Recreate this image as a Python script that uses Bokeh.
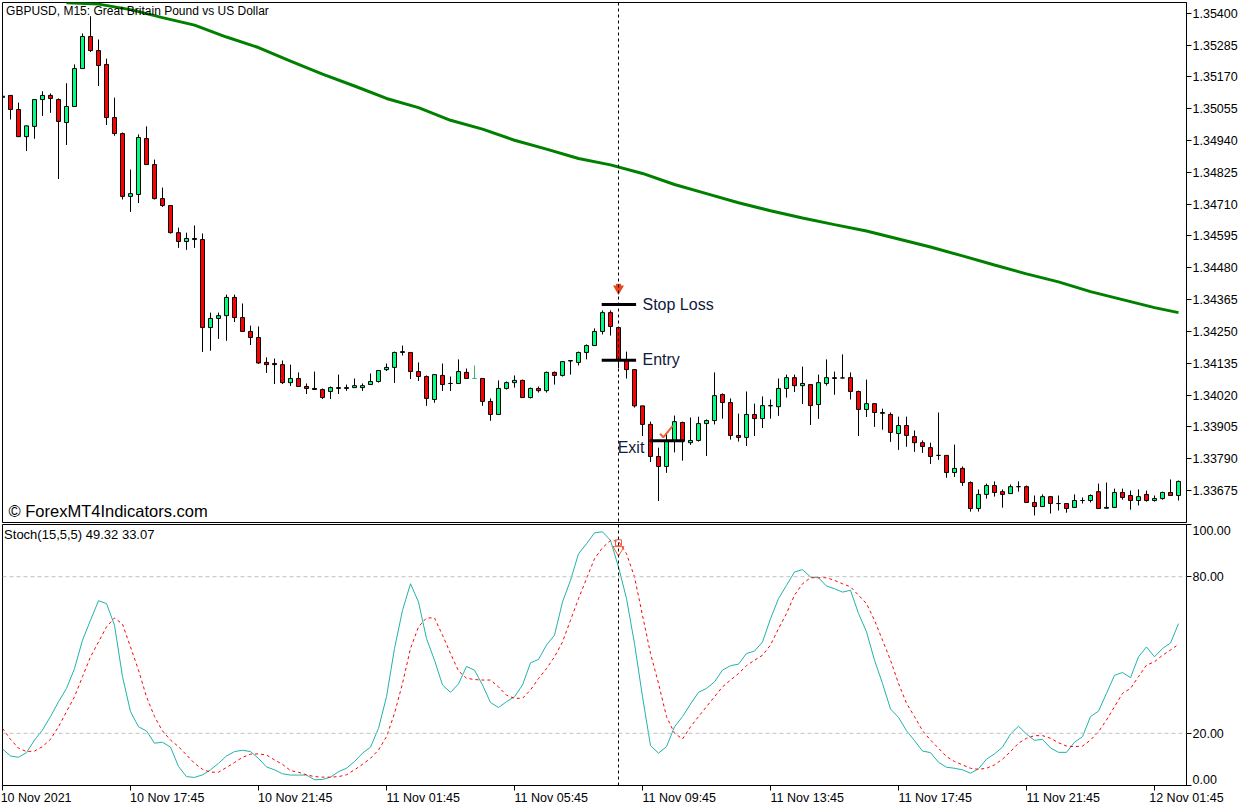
from bokeh.embed import file_html
from bokeh.resources import INLINE
from bokeh.layouts import column
from bokeh.models import ColumnDataSource, FixedTicker, Label, LinearAxis, Range1d, Span
from bokeh.plotting import figure

opens = [
1.35096,1.35103,1.35052,1.34954,1.34991,1.35088,1.35103,1.35088,1.35005,1.35063,
1.35200,1.35316,1.35265,1.35215,1.35023,1.34965,1.34738,1.34745,1.34947,1.34853,
1.34730,1.34705,1.34607,1.34575,1.34582,1.34582,1.34264,1.34297,1.34307,1.34373,
1.34300,1.34250,1.34228,1.34138,1.34134,1.34130,1.34065,1.34080,1.34051,1.34044,
1.34040,1.34033,1.34044,1.34044,1.34047,1.34047,1.34058,1.34069,1.34112,1.34120,
1.34174,1.34174,1.34105,1.34087,1.34004,1.34091,1.34062,1.34062,1.34102,1.34080,
1.34080,1.33997,1.33950,1.34044,1.34065,1.34073,1.34011,1.34044,1.34036,1.34102,
1.34091,1.34143,1.34138,1.34174,1.34199,1.34250,1.34318,1.34264,1.34145,1.34112,
1.33981,1.33914,1.33798,1.33762,1.33853,1.33921,1.33848,1.33856,1.33917,1.33928,
1.34022,1.33993,1.33874,1.33867,1.33950,1.33935,1.33981,1.33978,1.34044,1.34083,
1.34054,1.34058,1.33986,1.34062,1.34080,1.34082,1.34083,1.34033,1.33968,1.33989,
1.33954,1.33950,1.33881,1.33910,1.33870,1.33848,1.33830,1.33802,1.33802,1.33740,
1.33755,1.33704,1.33610,1.33661,1.33693,1.33671,1.33664,1.33689,1.33689,1.33632,
1.33617,1.33653,1.33628,1.33628,1.33614,1.33639,1.33639,1.33671,1.33611,1.33614,
1.33668,1.33657,1.33639,1.33661,1.33639,1.33646,1.33668,1.33657]
highs = [
1.35100,1.35104,1.35077,1.34993,1.35088,1.35118,1.35110,1.35092,1.35147,1.35215,
1.35327,1.35389,1.35305,1.35236,1.35095,1.34969,1.34835,1.34962,1.34991,1.34871,
1.34770,1.34705,1.34625,1.34607,1.34633,1.34604,1.34318,1.34318,1.34383,1.34383,
1.34351,1.34271,1.34268,1.34156,1.34152,1.34145,1.34130,1.34102,1.34062,1.34105,
1.34044,1.34051,1.34094,1.34058,1.34080,1.34062,1.34098,1.34109,1.34134,1.34177,
1.34199,1.34174,1.34138,1.34091,1.34094,1.34134,1.34087,1.34149,1.34116,1.34127,
1.34080,1.34008,1.34073,1.34069,1.34091,1.34076,1.34047,1.34051,1.34105,1.34105,
1.34141,1.34145,1.34177,1.34203,1.34261,1.34326,1.34326,1.34264,1.34177,1.34112,
1.33981,1.33924,1.33830,1.33881,1.33946,1.33924,1.33939,1.33942,1.33932,1.34102,
1.34026,1.34008,1.33953,1.34033,1.33989,1.34015,1.34004,1.34080,1.34094,1.34094,
1.34123,1.34058,1.34094,1.34149,1.34105,1.34167,1.34102,1.34036,1.34076,1.33989,
1.33971,1.33957,1.33942,1.33942,1.33892,1.33856,1.33848,1.33957,1.33802,1.33841,
1.33762,1.33708,1.33679,1.33700,1.33708,1.33679,1.33697,1.33708,1.33693,1.33657,
1.33661,1.33653,1.33657,1.33628,1.33661,1.33650,1.33661,1.33700,1.33704,1.33682,
1.33682,1.33675,1.33679,1.33675,1.33657,1.33671,1.33715,1.33711]
lows = [
1.35096,1.35016,1.34954,1.34902,1.34946,1.35029,1.35040,1.34801,1.34924,1.35063,
1.35200,1.35260,1.35137,1.34996,1.34957,1.34727,1.34682,1.34714,1.34853,1.34727,
1.34700,1.34604,1.34552,1.34545,1.34552,1.34176,1.34180,1.34223,1.34216,1.34284,
1.34250,1.34201,1.34133,1.34100,1.34060,1.34060,1.34053,1.34051,1.34024,1.34040,
1.34006,1.34006,1.34024,1.34035,1.34047,1.34035,1.34058,1.34065,1.34107,1.34064,
1.34163,1.34078,1.34071,1.33981,1.33992,1.34035,1.34035,1.34062,1.34080,1.34080,
1.33981,1.33927,1.33950,1.34040,1.34047,1.34011,1.34008,1.34029,1.34029,1.34058,
1.34087,1.34094,1.34127,1.34149,1.34199,1.34239,1.34235,1.34118,1.34080,1.33975,
1.33872,1.33778,1.33637,1.33739,1.33813,1.33783,1.33840,1.33852,1.33800,1.33914,
1.33935,1.33859,1.33852,1.33836,1.33872,1.33901,1.33935,1.33945,1.34011,1.34031,
1.33988,1.33912,1.33934,1.34054,1.34021,1.34080,1.34004,1.33872,1.33941,1.33905,
1.33895,1.33851,1.33822,1.33833,1.33815,1.33811,1.33771,1.33786,1.33721,1.33724,
1.33692,1.33599,1.33599,1.33646,1.33653,1.33613,1.33664,1.33671,1.33632,1.33585,
1.33617,1.33592,1.33603,1.33595,1.33614,1.33628,1.33632,1.33610,1.33611,1.33614,
1.33642,1.33606,1.33621,1.33635,1.33635,1.33642,1.33657,1.33639]
closes = [
1.35100,1.35052,1.34954,1.34993,1.35088,1.35103,1.35092,1.35009,1.35063,1.35200,
1.35316,1.35265,1.35211,1.35023,1.34965,1.34738,1.34748,1.34951,1.34853,1.34730,
1.34705,1.34607,1.34575,1.34586,1.34586,1.34264,1.34297,1.34307,1.34373,1.34300,
1.34250,1.34228,1.34136,1.34130,1.34130,1.34065,1.34080,1.34051,1.34044,1.34040,
1.34011,1.34047,1.34047,1.34047,1.34054,1.34054,1.34069,1.34109,1.34120,1.34174,
1.34177,1.34105,1.34087,1.34008,1.34094,1.34058,1.34062,1.34105,1.34080,1.34080,
1.33997,1.33950,1.34044,1.34065,1.34073,1.34011,1.34044,1.34036,1.34102,1.34091,
1.34141,1.34145,1.34174,1.34199,1.34250,1.34318,1.34268,1.34145,1.34112,1.33981,
1.33914,1.33798,1.33762,1.33856,1.33924,1.33853,1.33856,1.33917,1.33928,1.34018,
1.33993,1.33874,1.33867,1.33950,1.33935,1.33982,1.33982,1.34044,1.34083,1.34054,
1.34062,1.33982,1.34065,1.34083,1.34083,1.34082,1.34033,1.33968,1.33989,1.33957,
1.33957,1.33885,1.33910,1.33874,1.33848,1.33834,1.33798,1.33802,1.33740,1.33755,
1.33704,1.33610,1.33661,1.33693,1.33668,1.33661,1.33689,1.33689,1.33632,1.33617,
1.33653,1.33628,1.33628,1.33610,1.33639,1.33639,1.33657,1.33610,1.33614,1.33668,
1.33650,1.33639,1.33653,1.33639,1.33646,1.33668,1.33657,1.33708]

ma_bars = [8,12,16,20,24,28,32,36,40,44,48,52,56,60,64,68,72,76,80,84,88,92,96,
           100,104,108,112,116,120,124,128,132,136,140,144,147]
ma_values = [1.35438,1.35433,1.35413,1.35384,1.35357,1.35314,1.35276,1.35227,1.35180,1.35137,
             1.35092,1.35059,1.35013,1.34981,1.34941,1.34909,1.34875,1.34852,1.34821,1.34781,
             1.34748,1.34715,1.34686,1.34660,1.34636,1.34613,1.34584,1.34555,1.34523,1.34490,
             1.34458,1.34429,1.34394,1.34365,1.34336,1.34318]

stoch_main = [
14.0,11.3,10.8,12.6,17.4,21.3,26.4,32.1,37.2,44.8,55.7,63.3,70.8,69.7,61.4,41.7,28.3,22.5,20.9,16.2,
16.6,14.7,7.3,3.4,3.1,4.1,6.0,8.5,11.3,13.0,13.5,13.0,10.4,7.1,6.0,4.5,4.0,4.0,4.0,2.2,
2.3,3.2,5.3,6.6,9.2,12.4,14.7,21.9,34.0,52.5,67.1,77.3,70.3,56.3,48.0,38.5,35.7,38.9,45.6,44.2,
38.5,31.8,29.9,32.1,34.0,38.5,47.0,48.3,53.8,57.6,70.3,78.6,88.8,92.6,96.8,97.2,93.9,83.7,71.6,54.4,
34.0,15.3,12.4,14.9,22.5,26.4,31.2,35.7,37.2,39.7,44.2,45.9,46.5,50.6,51.5,55.0,63.9,71.6,76.7,81.8,
82.7,79.9,79.6,76.4,75.4,74.1,74.8,65.9,58.9,48.0,39.1,29.3,26.1,21.0,17.2,13.2,12.6,8.9,7.0,6.6,
6.0,4.7,6.4,10.1,12.1,14.7,19.7,22.7,19.7,17.3,17.7,14.4,12.7,12.7,16.6,18.7,26.4,28.5,35.3,42.2,
43.3,41.3,49.3,53.1,49.3,52.5,54.6,62.0]
stoch_signal = [
21.9,17.7,14.3,13.0,13.2,14.9,17.7,22.5,28.3,34.0,41.7,49.3,55.0,60.8,64.2,61.8,53.1,44.2,34.0,26.4,
20.9,17.4,14.9,11.7,8.5,6.2,5.1,5.1,6.9,8.8,10.8,12.0,12.1,11.7,9.8,8.1,5.7,5.1,4.1,3.4,
3.2,3.2,3.4,4.1,6.0,8.1,10.4,13.6,18.7,27.6,39.1,52.5,60.8,64.2,64.2,57.6,50.6,43.9,41.1,40.6,
40.4,40.4,37.8,34.6,33.4,33.4,36.6,41.0,44.8,49.3,55.0,63.3,71.6,79.2,86.9,91.1,93.9,93.6,88.8,79.9,
65.2,50.6,39.1,26.4,20.0,17.8,22.5,26.4,30.2,34.0,37.8,40.4,42.9,45.9,48.0,49.9,53.8,60.1,65.9,72.9,
77.3,79.6,79.6,79.6,78.6,77.3,76.1,72.9,69.7,63.3,55.7,48.0,39.1,31.5,26.4,21.0,17.4,14.3,11.1,9.2,
7.9,6.6,6.2,6.6,7.9,10.1,13.0,16.2,18.1,19.1,19.1,18.1,16.4,15.1,14.9,15.1,17.4,20.6,25.1,30.2,
35.3,37.2,41.7,46.1,47.4,49.9,51.9,54.1]

price_ticks = [1.35400,1.35285,1.35170,1.35055,1.34940,1.34825,1.34710,1.34595,
               1.34480,1.34365,1.34250,1.34135,1.34020,1.33905,1.33790,1.33675]
time_ticks = [0,16,32,48,64,80,96,112,128,144]
time_labels = ["10 Nov 2021","10 Nov 17:45","10 Nov 21:45","11 Nov 01:45","11 Nov 05:45",
               "11 Nov 09:45","11 Nov 13:45","11 Nov 17:45","11 Nov 21:45","12 Nov 01:45"]
stoch_ticks = [0, 20, 80, 100]
signal_bar = 77
pale_bar = 59
stop_loss, entry_price, exit_price = 1.34347, 1.34146, 1.33855
check_x, check_y = [82.2,82.6,83.8], [1.33881,1.33867,1.33910]

UP, DOWN = "#00ff7f", "#ff0000"
TEXT = "#101a3c"
FONT = "Liberation Sans"
n = len(opens)
bars = list(range(n))
x_range = Range1d(0, 148)


def axis_style(ax, tick_out):
    ax.major_tick_in = 0
    ax.major_tick_out = tick_out
    ax.minor_tick_line_color = None
    ax.major_tick_line_color = "black" if tick_out else None
    ax.major_label_text_font = FONT
    ax.major_label_text_font_size = "12.5px"
    ax.major_label_text_color = "black"


def style(p):
    p.grid.visible = False
    p.outline_line_color = "black"
    p.outline_line_width = 1
    p.background_fill_color = "white"
    p.border_fill_color = "white"
    axis_style(p.yaxis[0], 5)
    p.yaxis[0].major_label_standoff = 1
    p.yaxis[0].axis_line_color = "black"


top = figure(width=1256, height=523, x_range=x_range, y_range=Range1d(1.335595, 1.354388),
             y_axis_location="right", x_axis_location=None, output_backend="svg", toolbar_location=None,
             min_border_left=2, min_border_right=70, min_border_top=2, min_border_bottom=1)
style(top)
top.yaxis[0].ticker = FixedTicker(ticks=price_ticks)
top.yaxis[0].major_label_overrides = {t: f"{t:.5f}" for t in price_ticks}

src = ColumnDataSource(dict(
    x=bars, o=opens, h=highs, l=lows, c=closes,
    fill=[UP if c >= o else DOWN for o, c in zip(opens, closes)],
    edge=["#3cb371" if i == pale_bar else "black" for i in bars],
    top=[max(o, c) for o, c in zip(opens, closes)],
    bot=[min(o, c) for o, c in zip(opens, closes)],
))
top.segment("x", "l", "x", "h", source=src, line_color="edge", line_width=1)
top.vbar("x", 0.5, "top", "bot", source=src, fill_color="fill", line_color="edge", line_width=1)
top.line(ma_bars, ma_values, line_color="#008000", line_width=3)
top.add_layout(Span(location=signal_bar, dimension="height", line_color="black",
                    line_dash=[3, 3], line_width=1))
for y, x0, x1 in [(stop_loss, 74.9, 79.2), (entry_price, 74.9, 79.2), (exit_price, 80.9, 85.2)]:
    top.line([x0, x1], [y, y], line_color="black", line_width=3)
top.scatter([signal_bar], [1.34405], marker="inverted_triangle", size=11, fill_color="#e8461e", line_color="#e8461e", line_width=0)
top.scatter([signal_bar], [1.34413], marker="square", size=5, fill_color="#e8461e", line_color="#e8461e", line_width=0)
top.line(check_x, check_y, line_color="#f0602c", line_width=2)


def note(p, x, y, text, size, color="black", **kw):
    p.add_layout(Label(x=x, y=y, text=text, text_font=FONT, text_font_size=size, text_color=color,
                       text_baseline="middle", text_align="left", **kw))


note(top, 0.45, 1.35407, "GBPUSD, M15:  Great Britain Pound vs US Dollar", "12px")
note(top, 0.75, 1.33600, "© ForexMT4Indicators.com", "16.5px")
note(top, 80.0, 1.34348, "Stop Loss", "16px", TEXT)
note(top, 80.0, 1.34150, "Entry", "16px", TEXT)
note(top, 76.9, 1.33831, "Exit", "16px", TEXT)

bottom = figure(width=1256, height=286, x_range=x_range, y_range=Range1d(0, 100),
                y_axis_location="right", output_backend="svg", toolbar_location=None,
                min_border_left=2, min_border_right=70, min_border_top=1, min_border_bottom=24)
style(bottom)
# nearest axes draw the tick marks; the outer axes carry the texts, placed as in the reference
bottom.yaxis[0].ticker = FixedTicker(ticks=stoch_ticks)
bottom.yaxis[0].major_label_overrides = {t: "" for t in stoch_ticks}
bottom.yaxis[0].major_label_standoff = 0
y_text = LinearAxis(ticker=FixedTicker(ticks=[2.4, 20, 80, 97.6]),
                    major_label_overrides={2.4: "0.00", 20: "20.00", 80: "80.00", 97.6: "100.00"},
                    axis_line_color=None, major_label_standoff=1)
axis_style(y_text, 0)
bottom.add_layout(y_text, "right")

xa = bottom.xaxis[0]
axis_style(xa, 5)
xa.ticker = FixedTicker(ticks=time_ticks)
xa.major_label_overrides = {t: "" for t in time_ticks}
xa.major_label_standoff = 0
xa.axis_line_color = "black"
# the axis cannot label past the end of its range, so the last text centres on the range's end
label_centres = [min(t + (4.2 if i == 0 else 4.6), 147.99) for i, t in enumerate(time_ticks)]
x_text = LinearAxis(ticker=FixedTicker(ticks=label_centres),
                    major_label_overrides=dict(zip(label_centres, time_labels)),
                    axis_line_color=None, major_label_standoff=0)
axis_style(x_text, 0)
bottom.add_layout(x_text, "below")

for level in (80, 20):
    bottom.add_layout(Span(location=level, dimension="width", line_color="#c0c0c0",
                           line_dash=[4, 3], line_width=1))
bottom.line(bars, stoch_main, line_color="#20b2aa", line_width=1)
bottom.line(bars, stoch_signal, line_color="#ff0000", line_width=1, line_dash=[3, 3])
bottom.add_layout(Span(location=signal_bar, dimension="height", line_color="black",
                       line_dash=[3, 3], line_width=1))
bottom.scatter([signal_bar], [90.3], marker="inverted_triangle", size=11, fill_color=None, line_color="#f0603c", line_width=1)
bottom.scatter([signal_bar], [93.0], marker="square", size=6, fill_color=None, line_color="#f0603c", line_width=1)

note(bottom, 0.2, 96.0, "Stoch(15,5,5) 49.32 33.07", "13px")

page = column(top, bottom, spacing=0)
open("out.html", "w").write(file_html(page, INLINE))
